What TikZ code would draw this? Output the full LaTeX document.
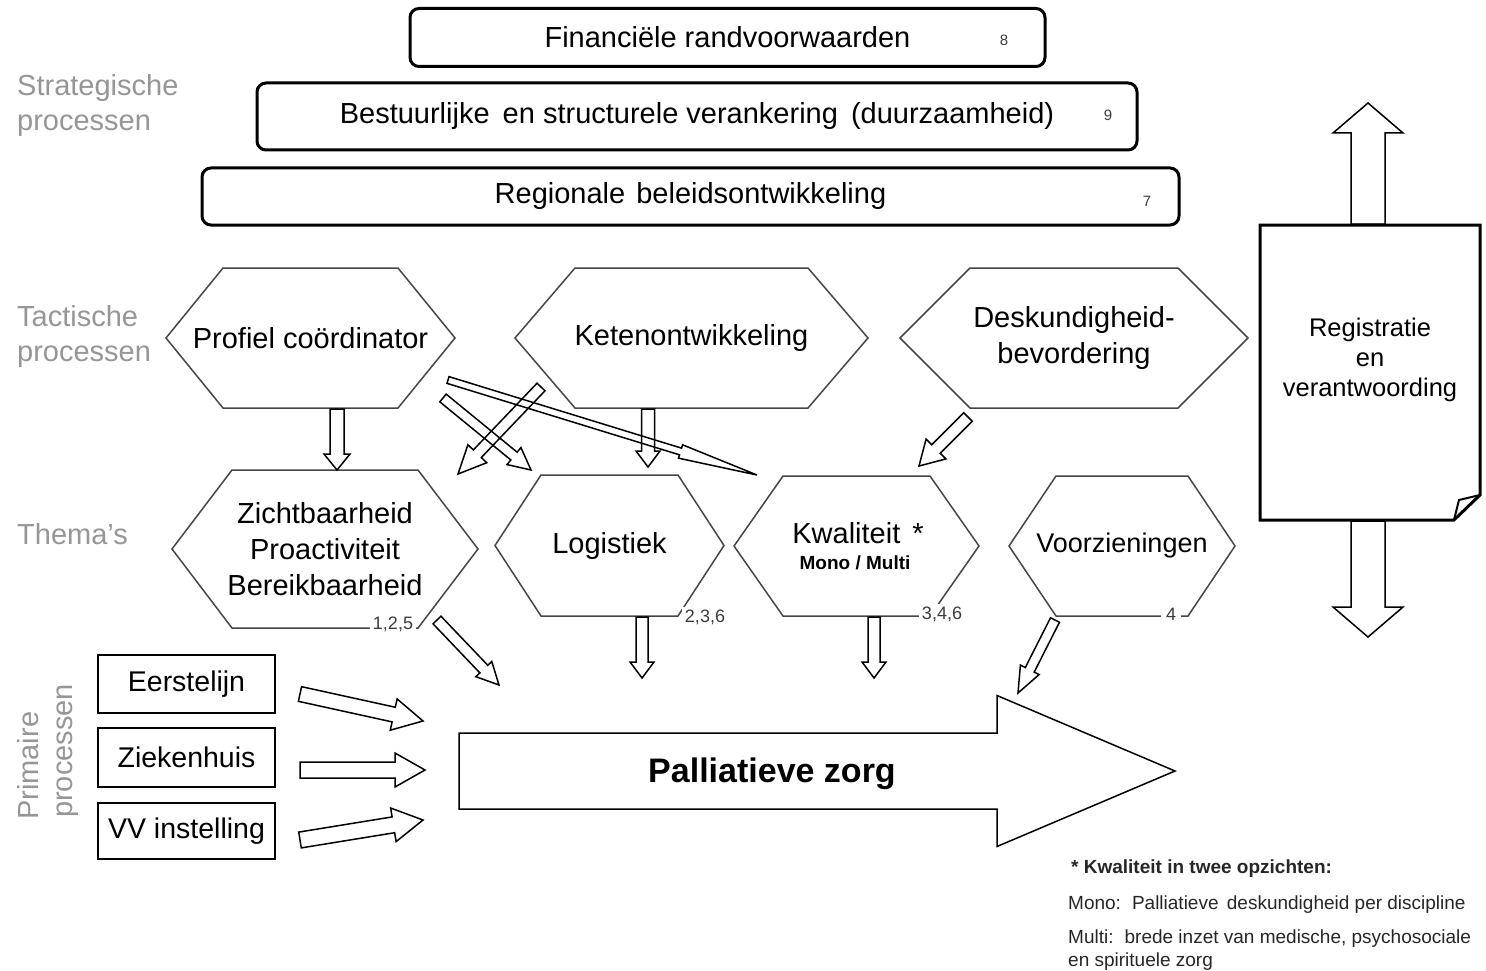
\documentclass[tikz,border=0pt]{standalone}
\usepackage{fontspec}
\setmainfont{Liberation Sans}
\usetikzlibrary{calc}
\definecolor{lblgray}{RGB}{150,150,150}
\definecolor{hexgray}{RGB}{70,70,70}
\definecolor{numgray}{RGB}{60,60,60}
\newcommand\fs[2]{\fontsize{#1pt}{#2pt}\selectfont}
% block arrow: from, to, shaft half width, head half width, head length
\newcommand\blockarr[5]{%
  \coordinate (hb) at ($(#2)!#5pt!(#1)$);
  \draw[blockline] ($(#1)!#3pt!90:(#2)$) -- ($(hb)!#3pt!90:(#2)$) -- ($(hb)!#4pt!90:(#2)$) -- (#2)
     -- ($(hb)!#4pt!-90:(#2)$) -- ($(hb)!#3pt!-90:(#2)$) -- ($(#1)!#3pt!-90:(#2)$) -- cycle;}
% hexagon: name, cx, cy, half width, half height, inset, text
\newcommand\hexa[7]{%
  \node[hexnode, minimum width={2*#4pt}, minimum height={2*#5pt}] (#1) at (#2,#3) {#7};
  \draw[hexline] (#1.west) -- ($(#1.north west)+(#6,0)$) -- ($(#1.north east)+(-#6,0)$) -- (#1.east)
     -- ($(#1.south east)+(-#6,0)$) -- ($(#1.south west)+(#6,0)$) -- cycle;}
\tikzset{
  hexnode/.style={inner sep=0pt, outer sep=0pt, align=center, font=\fs{29}{36}},
  hexline/.style={draw=hexgray, line width=1.5pt},
  blockline/.style={draw=black, line width=1.5pt, line join=miter},
  topbox/.style={draw=black, line width=3pt, rounded corners=9pt, inner sep=0pt, font=\fs{29}{34}},
  leftbox/.style={draw=black, line width=2pt, inner sep=0pt, minimum width=177pt, font=\fs{28.5}{32}},
  lbl/.style={text=lblgray, font=\fs{29}{35}, inner sep=0pt, anchor=base west},
  num/.style={text=numgray, font=\fs{18}{18}, fill=white, inner sep=2.5pt},
  smallnum/.style={text=numgray, font=\fs{15}{15}, inner sep=0pt},
  note/.style={font=\fs{19}{23.5}, inner sep=0pt, anchor=base west, text=black!85}
}
\begin{document}
\begin{tikzpicture}[x=1pt,y=-1pt]
\useasboundingbox (0,0) rectangle (1486,971);
\fill[white] (0,0) rectangle (1486,971);

% left labels
\node[lbl] (lstrat1) at (17,96) {Strategische};
\node[lbl] (lstrat2) at (17,131) {processen};
\node[lbl] (ltact1) at (17,326) {Tactische};
\node[lbl] (ltact2) at (17,361) {processen};
\node[lbl] (lthema) at (17,544) {Thema’s};
\node[lbl, rotate=90] (lprim1) at (38,820) {Primaire};
\node[lbl, rotate=90] (lprim2) at (72,818) {processen};

% strategic boxes
\node[topbox, minimum width=635pt, minimum height=58pt] (fin) at (727.5,37.5) {Financiële randvoorwaarden};
\node[smallnum] (n8) at (1004,40) {8};
\node[topbox, minimum width=880pt, minimum height=67pt] (best) at (697,116.5) {Bestuurlijke\hspace{5pt} en structurele verankering\hspace{5pt} (duurzaamheid)};
\node[smallnum] (n9) at (1108,115) {9};
\node[topbox, minimum width=977pt, minimum height=57pt] (reg) at (690.5,196.5) {Regionale\hspace{3pt} beleidsontwikkeling};
\node[smallnum] (n7) at (1147,201) {7};

% tactical hexagons
\hexa{prof}{310.5}{338}{144.5}{70}{57}{Profiel coördinator}
\hexa{keten}{691.5}{338}{176.5}{70}{60}{Ketenontwikkeling}
\hexa{desk}{1074}{338}{174}{70}{70}{Deskundigheid-\\bevordering}

% theme hexagons
\hexa{zicht}{325}{549}{153}{79}{60}{Zichtbaarheid\\Proactiviteit\\Bereikbaarheid}
\hexa{logi}{609.5}{545.5}{114.5}{70.5}{46}{Logistiek}
\hexa{kwal}{856.5}{546}{122.5}{70}{49}{}
\node[font=\fs{29}{34}, inner sep=0pt] (kwalA) at (858,533) {Kwaliteit\hspace{12pt}*};
\node[font=\bfseries\fs{19}{22}, inner sep=0pt] (kwalB) at (855,563) {Mono / Multi};
\hexa{voor}{1122}{546}{113}{70}{47}{\fs{27}{32}Voorzieningen}

\node[num] (n125) at (393,624) {1,2,5};
\node[num] (n236) at (705,617) {2,3,6};
\node[num] (n346) at (942,614) {3,4,6};
\node[num, inner xsep=5pt] (n4) at (1171,614) {4};

% registration document
\coordinate (up1) at (1368,224); \coordinate (up2) at (1368,103);
\coordinate (dn1) at (1368,521); \coordinate (dn2) at (1368,637);
\blockarr{up1}{up2}{17}{35}{30}
\blockarr{dn1}{dn2}{17}{35}{30}
\node[minimum width=220pt, minimum height=295pt, inner sep=0pt, outer sep=0pt] (doc) at (1370,372.5) {};
\draw[line width=3pt, line join=miter, fill=white] (doc.north west) -- (doc.north east) -- ($(doc.south east)+(0,-25)$)
   -- ($(doc.south east)+(-26,0)$) -- (doc.south west) -- cycle;
\draw[line width=2pt, line join=miter] ($(doc.south east)+(-26,0)$) -- ($(doc.south east)+(-21,-20)$) -- ($(doc.south east)+(0,-25)$);
\node[font=\fs{25.5}{30}, align=center, inner sep=0pt] (regtext) at (1370,360) {Registratie\\en\\verantwoording};

% primary process boxes
\node[leftbox, minimum height=58pt] (eerst) at (186.5,684) {Eerstelijn};
\node[leftbox, minimum height=59pt] (zieken) at (186.5,757.5) {Ziekenhuis};
\node[leftbox, minimum height=56pt] (vv) at (186.5,831) {VV instelling};

% Palliatieve zorg big arrow
\coordinate (palL) at (459,771); \coordinate (palR) at (1175,771);
\blockarr{palL}{palR}{38}{75.5}{178}
\node[font=\bfseries\fs{34}{40}, inner sep=0pt] (pal) at (772,774) {Palliatieve zorg};

% connector arrows
\coordinate (a1s) at (337,409); \coordinate (a1e) at (337,470);
\blockarr{a1s}{a1e}{7}{13}{16}
\coordinate (a2s) at (648,409); \coordinate (a2e) at (648,467);
\blockarr{a2s}{a2e}{6.5}{12}{16}
\coordinate (a3s) at (448,380); \coordinate (a3e) at (757,475);
\blockarr{a3s}{a3e}{3.5}{7}{80}
\coordinate (a4s) at (443,398); \coordinate (a4e) at (531,470);
\blockarr{a4s}{a4e}{5}{11}{22}
\coordinate (a5s) at (541,387); \coordinate (a5e) at (458,474);
\blockarr{a5s}{a5e}{5.5}{13}{28}
\coordinate (a6s) at (968,417); \coordinate (a6e) at (919,466);
\blockarr{a6s}{a6e}{6}{14}{24}
\coordinate (a7s) at (437,620); \coordinate (a7e) at (499,685);
\blockarr{a7s}{a7e}{5.5}{11}{22}
\coordinate (a8s) at (642,617); \coordinate (a8e) at (642,678);
\blockarr{a8s}{a8e}{6}{12}{16}
\coordinate (a9s) at (874,617); \coordinate (a9e) at (874,678);
\blockarr{a9s}{a9e}{6}{12}{16}
\coordinate (a10s) at (1055,620); \coordinate (a10e) at (1018,693);
\blockarr{a10s}{a10e}{5}{10.5}{26}
\coordinate (a11s) at (300,694); \coordinate (a11e) at (423,721);
\blockarr{a11s}{a11e}{7.5}{16}{30}
\coordinate (a12s) at (300,770); \coordinate (a12e) at (425,770);
\blockarr{a12s}{a12e}{8}{17}{30}
\coordinate (a13s) at (300,840); \coordinate (a13e) at (423,820);
\blockarr{a13s}{a13e}{8}{17}{30}

% footnote
\node[note, font=\bfseries\fs{19}{23.5}] (fn1) at (1071,873) {* Kwaliteit in twee opzichten:};
\node[note] (fn2) at (1068,909) {Mono:\hspace{4pt} Palliatieve\hspace{3pt} deskundigheid per discipline};
\node[note] (fn3) at (1068,943) {Multi:\hspace{4pt} brede inzet van medische, psychosociale};
\node[note] (fn4) at (1068,966) {en spirituele zorg};
\end{tikzpicture}
\end{document}
